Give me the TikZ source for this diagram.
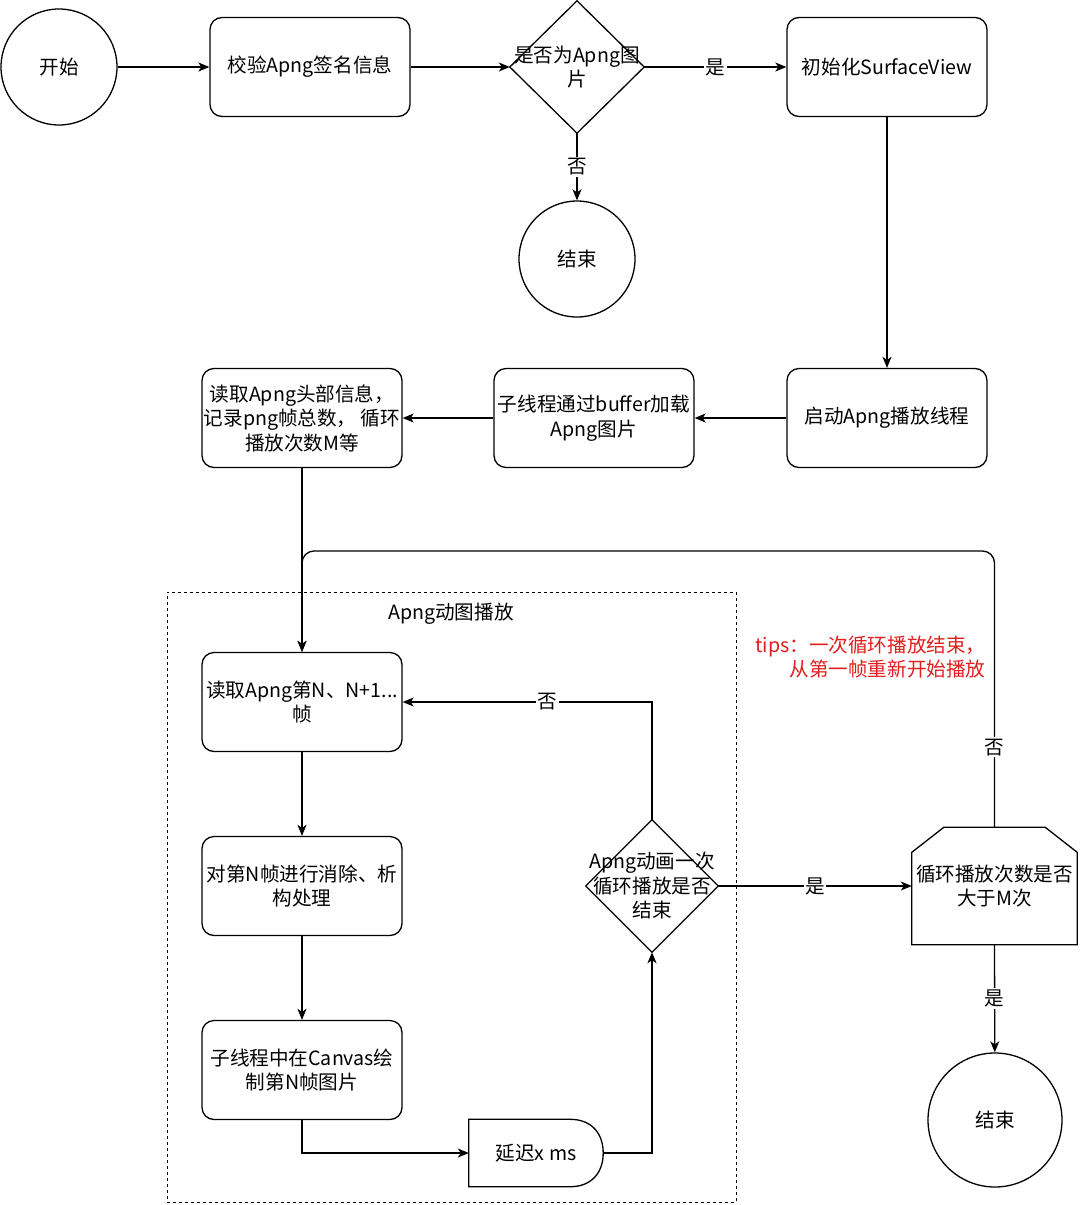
\documentclass[tikz,border=0pt]{standalone}
\usepackage{fontspec}
\setmainfont{Noto Sans CJK SC}
\usetikzlibrary{arrows.meta,calc}
\definecolor{tipred}{RGB}{225,30,30}
\begin{document}
\begin{tikzpicture}[x=1pt,y=-1pt,
  every node/.style={font=\fontsize{19.6}{24.5}\selectfont, text=black},
  box/.style={draw, rounded corners=12pt, minimum width=200pt, minimum height=99pt, align=center, line width=1.3pt, inner sep=1pt},
  circ/.style={draw, circle, line width=1.3pt, inner sep=0pt},
  frame/.style={draw=none, minimum width=#1, minimum height=132pt, inner sep=0pt},
  arr/.style={-{Stealth[length=11pt,width=9pt,inset=3pt]}, line width=1.3pt},
  lbl/.style={fill=white, inner sep=1.5pt},
  edge/.style={line width=1.3pt}]
\useasboundingbox (0,0) rectangle (1080,1205);

% container
\node[draw, dash pattern=on 3pt off 3pt, line width=1pt, minimum width=569pt, minimum height=610pt] (group) at (451.5,897) {};
\node (grouplabel) at (451,614) {Apng动图播放};

% top row
\node[circ, minimum size=116pt] (start) at (59,67) {开始};
\node[box] (check) at (310,67) {校验Apng签名信息};
\node[frame=134pt] (isapng) at (577,67) {};
\draw[edge] (isapng.north) -- (isapng.east) -- (isapng.south) -- (isapng.west) -- cycle;
\node[align=center] (isapngtext) at (577,67) {是否为Apng图\\片};
\node[box] (init) at (887,67) {初始化SurfaceView};
\node[circ, minimum size=116pt] (end1) at (577,259) {结束};

% second row
\node[box] (thread) at (887,418) {启动Apng播放线程};
\node[box] (load) at (594,418) {子线程通过buffer加载\\Apng图片};
\node[box] (header) at (302,418) {读取Apng头部信息，\\记录png帧总数， 循环\\播放次数M等};

% loop
\node[box] (readn) at (302,702) {读取Apng第N、N+1...\\帧};
\node[box] (clear) at (302,886) {对第N帧进行消除、析\\构处理};
\node[box] (canvas) at (302,1070) {子线程中在Canvas绘\\制第N帧图片};
\node[minimum width=134pt, minimum height=67pt, inner sep=0pt] (delay) at (536,1153) {延迟x ms};
\draw[edge] (delay.north west) -- ($(delay.north east)+(-33,0)$)
  .. controls ($(delay.north east)+(-12,0)$) and ($(delay.east)+(0,-20)$) .. (delay.east)
  .. controls ($(delay.east)+(0,20)$) and ($(delay.south east)+(-12,0)$) .. ($(delay.south east)+(-33,0)$)
  -- (delay.south west) -- cycle;
\node[frame=132pt] (endloop) at (652,886) {};
\draw[edge] (endloop.north) -- (endloop.east) -- (endloop.south) -- (endloop.west) -- cycle;
\node[align=center] (endlooptext) at (652,886) {Apng动画一次\\循环播放是否\\结束};

\node[minimum width=165pt, minimum height=117pt, inner sep=0pt, align=center] (limit) at (994.5,886) {循环播放次数是否\\大于M次};
\draw[edge] ($(limit.north west)+(0,25)$) -- ($(limit.north west)+(32,0)$) -- ($(limit.north east)+(-32,0)$)
  -- ($(limit.north east)+(0,25)$) -- (limit.south east) -- (limit.south west) -- cycle;
\node[circ, minimum size=134pt] (end2) at (995,1120) {结束};

\node[text=tipred, align=right, anchor=east, font=\fontsize{19.6}{24.5}\selectfont] (tips) at (989,657) {tips：一次循环播放结束，\\从第一帧重新开始播放};

\coordinate (loopturn) at (302,551);

% connectors
\draw[arr] (start) -- (check);
\draw[arr] (check) -- (isapng.west);
\draw[arr] (isapng.east) -- node[lbl]{是} (init);
\draw[arr] (isapng.south) -- node[lbl]{否} (end1);
\draw[arr] (init) -- (thread);
\draw[arr] (thread) -- (load);
\draw[arr] (load) -- (header);
\draw[arr] (header) -- (readn);
\draw[arr] (readn) -- (clear);
\draw[arr] (clear) -- (canvas);
\draw[arr] (canvas.south) |- (delay.west);
\draw[arr] (delay.east) -| (endloop.south);
\draw[arr] (endloop.north) |- node[lbl, pos=0.71]{否} (readn.east);
\draw[arr] (endloop.east) -- node[lbl]{是} (limit.west);
\draw[arr, rounded corners=12pt] (limit.north) -- node[lbl, pos=0.29]{否} (limit.north |- loopturn) -- (loopturn) -- (readn.north);
\draw[arr] (limit.south) -- node[lbl]{是} (end2);
\end{tikzpicture}
\end{document}
